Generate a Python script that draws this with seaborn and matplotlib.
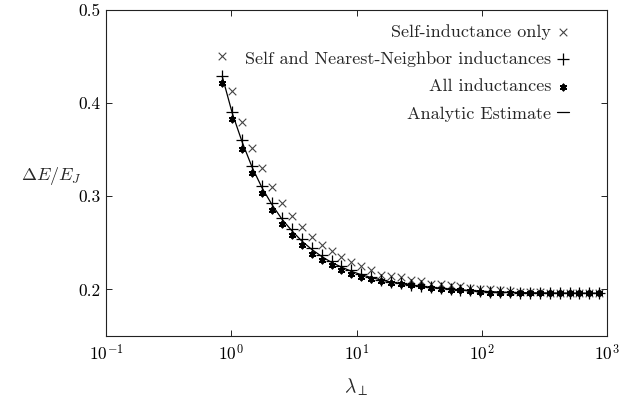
import numpy as np
import pandas as pd
import matplotlib
matplotlib.use("Agg")
import matplotlib.pyplot as plt
import seaborn as sns

# ---- data ----
lam = [0.85, 1.02, 1.224, 1.469, 1.763, 2.115, 2.538, 3.046, 3.655, 4.386,
       5.263, 6.316, 7.579, 9.095, 10.91, 13.10, 15.72, 18.86, 22.63, 27.16,
       32.59, 39.10, 46.93, 56.31, 67.57, 81.09, 97.30, 116.8, 140.1, 168.1,
       201.8, 242.1, 290.5, 348.7, 418.4, 502.1, 602.5, 723.0, 867.6]

self_only = [0.451, 0.413, 0.380, 0.352, 0.330, 0.310, 0.293, 0.279, 0.267, 0.256,
             0.248, 0.241, 0.235, 0.229, 0.225, 0.2205, 0.216, 0.214, 0.2133, 0.2105,
             0.2087, 0.2062, 0.2055, 0.2044, 0.2033, 0.2019, 0.2009, 0.2001, 0.1990, 0.1982,
             0.1977, 0.1973, 0.1970, 0.1967, 0.1965, 0.1964, 0.1963, 0.1962, 0.1962]

nearest = [0.4287, 0.3903, 0.360, 0.332, 0.311, 0.293, 0.277, 0.265, 0.2545, 0.2444,
           0.2366, 0.2302, 0.2248, 0.2205, 0.2162, 0.2133, 0.2105, 0.208, 0.2065, 0.2050,
           0.2037, 0.2023, 0.2015, 0.2005, 0.1998, 0.1990, 0.1983, 0.1977, 0.1972, 0.1969,
           0.1966, 0.1964, 0.1963, 0.1962, 0.1962, 0.1961, 0.1961, 0.1961, 0.1960]

all_ind = [0.4215, 0.3833, 0.351, 0.325, 0.3035, 0.285, 0.270, 0.2584, 0.2473, 0.2384,
           0.2312, 0.2259, 0.2205, 0.217, 0.2133, 0.2108, 0.2087, 0.2068, 0.2062, 0.2043,
           0.2033, 0.2015, 0.2009, 0.1998, 0.1990, 0.1983, 0.1972, 0.1966, 0.1962, 0.1960,
           0.1960, 0.1959, 0.1959, 0.1959, 0.1958, 0.1958, 0.1958, 0.1958, 0.1958]

analytic = [0.428, 0.389, 0.358, 0.331, 0.309, 0.291, 0.2755, 0.263, 0.252, 0.243,
            0.2355, 0.229, 0.224, 0.2195, 0.2158, 0.2128, 0.2102, 0.2078, 0.2062, 0.2047,
            0.2034, 0.2021, 0.2011, 0.2002, 0.1995, 0.1988, 0.1981, 0.1976, 0.1971, 0.1968,
            0.1966, 0.1964, 0.1963, 0.1962, 0.1961, 0.1961, 0.1960, 0.1960, 0.1960]

labels = ["Self-inductance only", "Self and Nearest-Neighbor inductances",
          "All inductances", "Analytic Estimate"]
xticks = [0.1, 1, 10, 100, 1000]
xticklabels = [r"$10^{-1}$", r"$10^{0}$", r"$10^{1}$", r"$10^{2}$", r"$10^{3}$"]
yticks = [0.2, 0.3, 0.4, 0.5]
yticklabels = ["0.2", "0.3", "0.4", "0.5"]

df = pd.DataFrame({"lam": lam, "self": self_only, "nn": nearest,
                   "all": all_ind, "analytic": analytic})

sns.set_theme(style="ticks")
plt.rcParams["font.family"] = ["cmr10", "DejaVu Serif"]
plt.rcParams["mathtext.fontset"] = "cm"
plt.rcParams["axes.formatter.use_mathtext"] = True
plt.rcParams["font.size"] = 12

fig = plt.figure(figsize=(6.34, 4.0), dpi=100)
ax = fig.add_axes([106/634, 1-336/400, (607-106)/634, (336-10)/400])

sns.scatterplot(data=df, x="lam", y="self", ax=ax, marker="x", s=30,
                color="#444444", linewidth=0.8, label=labels[0], zorder=3)
sns.scatterplot(data=df, x="lam", y="nn", ax=ax, marker="+", s=64,
                color="black", linewidth=0.9, label=labels[1], zorder=4)
sns.scatterplot(data=df, x="lam", y="all", ax=ax, marker=(6, 2, 0), s=18,
                color="black", edgecolor="black", linewidth=1.4, label=labels[2], zorder=4)
sns.lineplot(data=df, x="lam", y="analytic", ax=ax, color="black",
             linewidth=0.9, label=labels[3], zorder=5)

ax.set_xscale("log")
ax.set_xlim(0.1, 1000)
ax.set_ylim(0.15, 0.5)
ax.set_xticks(xticks)
ax.set_xticklabels(xticklabels, fontsize=12.5)
ax.xaxis.set_minor_locator(matplotlib.ticker.NullLocator())
ax.set_yticks(yticks)
ax.set_yticklabels(yticklabels, fontsize=12.5)
ax.tick_params(axis="both", which="major", direction="in", length=4, width=0.6,
               top=True, right=True, colors="black")
ax.tick_params(axis="x", pad=5)
ax.tick_params(axis="y", pad=4)
for sp in ax.spines.values():
    sp.set_linewidth(0.8)
    sp.set_color("#222222")

ax.set_xlabel(r"$\lambda_\perp$", fontsize=14, va="center")
ax.xaxis.set_label_coords(0.5, -0.156)
ax.set_ylabel(r"$\Delta E/E_J$", fontsize=13, rotation=0, ha="center", va="center")
ax.yaxis.set_label_coords(-0.11, 0.49)

leg = ax.legend(loc="upper right", bbox_to_anchor=(578/634, 1-15/400),
                bbox_transform=fig.transFigure, frameon=False, markerfirst=False,
                handlelength=0.65, handletextpad=0.35, labelspacing=0.64,
                borderpad=0, fontsize=13)

fig.savefig("out.png", dpi=100)
